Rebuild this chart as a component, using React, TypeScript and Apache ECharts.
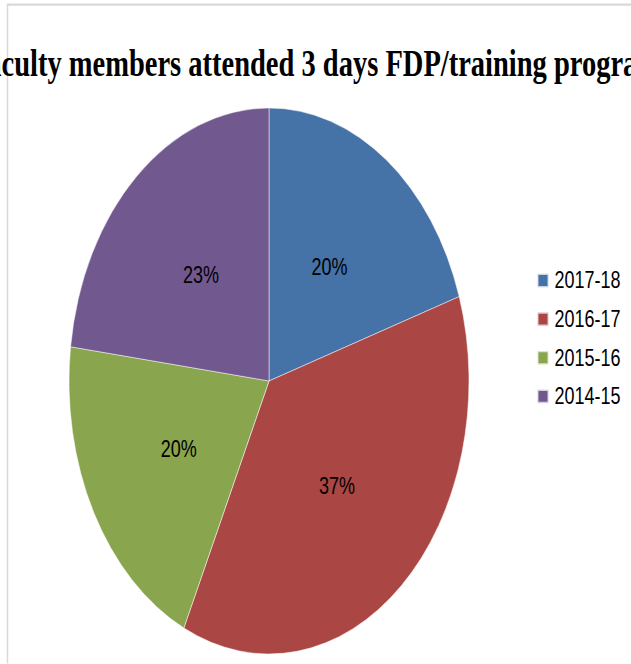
import React, { useEffect, useRef } from "react";
import * as echarts from "echarts";

const TITLE = "Faculty members attended 3 days FDP/training program";
const categories = ["2017-18", "2016-17", "2015-16", "2014-15"];
const values = [20, 37, 20, 23];
const colors = ["#4572A7", "#AA4643", "#89A54E", "#71588F"];

const W = 631;
const H = 664;
const STRETCH = 1.365;

export default function App() {
  const ref = useRef<HTMLDivElement>(null);

  useEffect(() => {
    if (!ref.current) return;
    const chart = echarts.init(ref.current, undefined, { renderer: "svg" });
    chart.setOption({
      animation: false,
      backgroundColor: "#ffffff",
      title: {
        text: TITLE,
        left: "center",
        top: 31.5,
        padding: [0, 31, 0, 0],
        textStyle: {
          fontFamily: "'Liberation Serif', 'Times New Roman', serif",
          fontWeight: "bold",
          fontSize: 28.5,
          color: "#000000",
        },
      },
      legend: {
        orient: "vertical",
        left: 531.5,
        top: 191.5,
        itemWidth: 11,
        itemHeight: 10,
        itemGap: 10.3,
        icon: "rect",
        data: categories,
        textStyle: {
          fontFamily: "'Liberation Sans', Arial, sans-serif",
          fontSize: 18,
          color: "#000000",
          padding: [0, 0, 0, 1],
        },
      },
      graphic: [
        {
          type: "rect",
          shape: { x: 7.5, y: 3.4, width: 800, height: 800 },
          style: { fill: "none", stroke: "#d9d9d9", lineWidth: 1.5 },
          silent: true,
        },
      ],
      series: [
        {
          type: "pie",
          center: [269, 279.1],
          radius: [0, 200],
          startAngle: 90,
          clockwise: true,
          avoidLabelOverlap: false,
          itemStyle: { borderColor: "rgba(255,255,255,0.7)", borderWidth: 0.6 },
          label: {
            show: true,
            position: "inside",
            formatter: "{d}%",
            fontFamily: "'Liberation Sans', Arial, sans-serif",
            fontSize: 18,
            color: "#000000",
          },
          labelLine: { show: false },
          emphasis: { disabled: true },
          data: categories.map((c, i) => ({
            name: c,
            value: values[i],
            itemStyle: { color: colors[i] },
          })),
        },
      ],
    });
    return () => chart.dispose();
  }, []);

  return (
    <div
      style={{
        position: "fixed",
        left: 0,
        top: 0,
        width: W,
        height: H,
        overflow: "hidden",
        background: "#ffffff",
      }}
    >
      <div
        ref={ref}
        style={{
          width: W,
          height: H / STRETCH,
          transform: `scaleY(${STRETCH})`,
          transformOrigin: "0 0",
        }}
      />
    </div>
  );
}
